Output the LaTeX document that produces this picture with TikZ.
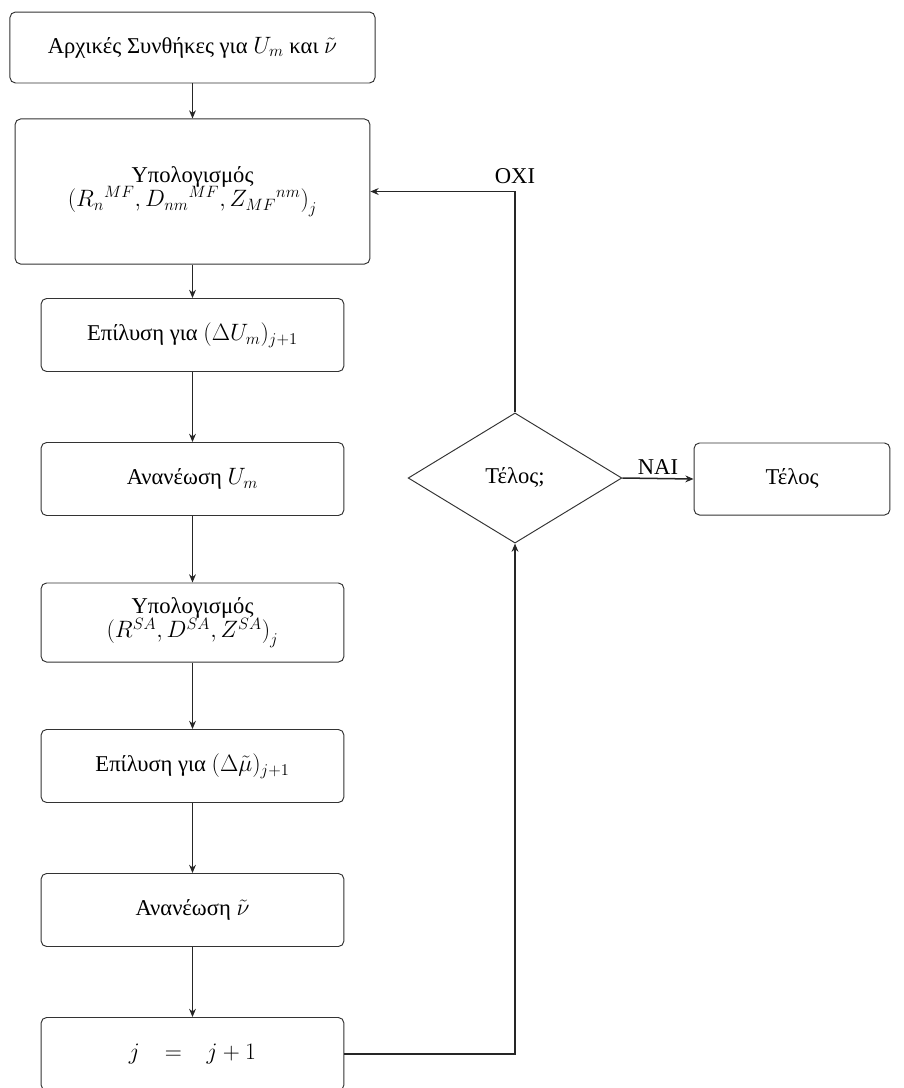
\documentclass[tikz,border=0pt]{standalone}
\usepackage{fontspec}
\setmainfont{Liberation Serif}
\usetikzlibrary{shapes.geometric,arrows.meta}
\begin{document}
\begin{tikzpicture}[x=0.73pt,y=-0.73pt,
  txt/.style={font=\fontsize{16.5}{20}\selectfont},
  procbox/.style={txt,draw=black!80,line width=0.7pt,rounded corners=4pt,align=center,inner sep=2pt},
  std/.style={procbox,minimum width=221pt,minimum height=53.3pt},
  decision/.style={txt,draw=black!80,line width=0.7pt,diamond,aspect=1.65,minimum width=156pt,minimum height=95pt,inner sep=0pt},
  flow/.style={draw=black!85,line width=0.7pt,-{Stealth[length=6pt,width=5pt]}},
  loop/.style={draw=black!85,line width=1.1pt,-{Stealth[length=6pt,width=5pt]}},
  lbl/.style={txt}]
\useasboundingbox (0,0) rectangle (904,1088);
\node[procbox,minimum width=266.5pt,minimum height=51.8pt] (b1) at (192.5,47.5) {Αρχικές Συνθήκες για $U_m$ και $\tilde{\nu}$};
\node[procbox,minimum width=259pt,minimum height=105.9pt] (b2) at (192.5,191.5) {Υπολογισμός\\[-2pt] $\bigl({R_n}^{MF}, {D_{nm}}^{MF}, {Z_{MF}}^{nm}\bigr)_j$};
\node[std] (b3) at (192.5,335) {Επίλυση για $(\Delta U_m)_{j+1}$};
\node[std] (b4) at (192.5,479) {Ανανέωση $U_m$};
\node[std,minimum height=57.7pt] (b5) at (192.5,622.5) {Υπολογισμός\\[-2pt] $\bigl(R^{SA}, D^{SA}, Z^{SA}\bigr)_j$};
\node[std] (b6) at (192.5,766) {Επίλυση για $(\Delta\tilde{\mu})_{j+1}$};
\node[std] (b7) at (192.5,910) {Ανανέωση $\tilde{\nu}$};
\node[std] (b8) at (192.5,1054) {$j\hspace{1.1em}{=}\hspace{1.1em}j+1$};
\node[decision] (d) at (515,478) {Τέλος;};
\node[procbox,minimum width=143pt,minimum height=52.6pt] (e) at (792,479) {Τέλος};
\draw[flow] (b1) -- (b2);
\draw[flow] (b2) -- (b3);
\draw[flow] (b3) -- (b4);
\draw[flow] (b4) -- (b5);
\draw[flow] (b5) -- (b6);
\draw[flow] (b6) -- (b7);
\draw[flow] (b7) -- (b8);
\draw[loop] (b8.east) -| (d.south);
\draw[loop] (d.north) |- coordinate[pos=0.5] (c) (b2.east);
\node[lbl,above=2pt] (oxi) at (c) {ΟΧΙ};
\draw[loop] (d.east) -- node[lbl,above=-1pt] (nai) {ΝΑΙ} (e.west);
\end{tikzpicture}
\end{document}
